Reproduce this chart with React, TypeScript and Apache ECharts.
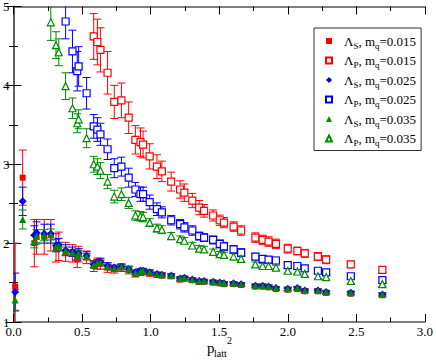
import React, { useEffect, useRef } from 'react';
import * as echarts from 'echarts';

// momentum values p_latt^2 (shared by all six data sets)
const P2 = [0.012, 0.067, 0.152, 0.168, 0.224, 0.272, 0.31, 0.33, 0.38, 0.43, 0.465, 0.475, 0.533, 0.585, 0.612, 0.634, 0.686, 0.735, 0.787, 0.84, 0.889, 0.926, 0.945, 0.993, 1.046, 1.082, 1.15, 1.215, 1.246, 1.304, 1.354, 1.39, 1.456, 1.504, 1.535, 1.605, 1.66, 1.764, 1.817, 1.86, 1.914, 2.0, 2.07, 2.124, 2.22, 2.28, 2.46, 2.69];

// Lambda_S, m_q = 0.015
const S015 = [1.45, 2.83, 2.0, 2.08, 2.08, 2.1, 1.94, 1.96, 1.89, 1.87, 1.8, 1.86, 1.82, 1.71, 1.74, 1.74, 1.69, 1.67, 1.69, 1.66, 1.61, 1.63, 1.64, 1.62, 1.6, 1.59, 1.58, 1.54, 1.55, 1.53, 1.51, 1.51, 1.5, 1.49, 1.48, 1.48, 1.47, 1.45, 1.45, 1.44, 1.42, 1.41, 1.42, 1.39, 1.39, 1.37, 1.36, 1.34];
const S015err = [0.55, 0.35, 0.3, 0.22, 0.22, 0.2, 0.18, 0.18, 0.12, 0.11, 0.11, 0.1, 0.08, 0.07, 0.07, 0.07, 0.06, 0.05, 0.05, 0.05, 0.04, 0.04, 0.04, 0.04, 0.03, 0.03, 0.03, 0.03, 0.03, 0.03, 0.03, 0.02, 0.02, 0.02, 0.02, 0.02, 0.02, 0.02, 0.02, 0.02, 0.02, 0.02, 0.02, 0.02, 0.02, 0.02, 0.02, 0.02];

// Lambda_S, m_q = 0.025
const S025 = [1.38, 2.53, 2.1, 2.13, 2.12, 2.12, 1.97, 1.98, 1.91, 1.89, 1.84, 1.87, 1.84, 1.73, 1.75, 1.76, 1.71, 1.69, 1.7, 1.67, 1.63, 1.65, 1.65, 1.63, 1.61, 1.6, 1.59, 1.55, 1.56, 1.54, 1.52, 1.52, 1.51, 1.5, 1.49, 1.49, 1.48, 1.46, 1.46, 1.45, 1.43, 1.42, 1.43, 1.4, 1.4, 1.38, 1.37, 1.35];
const S025err = [0.24, 0.18, 0.12, 0.14, 0.12, 0.12, 0.08, 0.08, 0.07, 0.06, 0.06, 0.06, 0.05, 0.04, 0.04, 0.04, 0.04, 0.03, 0.03, 0.03, 0.03, 0.03, 0.03, 0.03, 0.02, 0.02, 0.02, 0.02, 0.02, 0.02, 0.02, 0.02, 0.02, 0.02, 0.02, 0.02, 0.02, 0.02, 0.02, 0.02, 0.02, 0.02, 0.02, 0.02, 0.02, 0.02, 0.02, 0.02];

// Lambda_S, m_q = 0.035
const S035 = [1.28, 2.3, 2.02, 2.09, 2.1, 2.11, 1.95, 1.96, 1.9, 1.88, 1.83, 1.87, 1.83, 1.72, 1.75, 1.75, 1.7, 1.68, 1.7, 1.67, 1.62, 1.64, 1.65, 1.63, 1.61, 1.6, 1.59, 1.55, 1.56, 1.54, 1.52, 1.52, 1.51, 1.5, 1.49, 1.49, 1.48, 1.46, 1.46, 1.45, 1.43, 1.42, 1.43, 1.4, 1.4, 1.38, 1.37, 1.35];
const S035err = [0.13, 0.12, 0.08, 0.08, 0.07, 0.07, 0.05, 0.05, 0.05, 0.04, 0.04, 0.04, 0.04, 0.03, 0.03, 0.03, 0.03, 0.03, 0.03, 0.03, 0.02, 0.02, 0.02, 0.02, 0.02, 0.02, 0.02, 0.02, 0.02, 0.02, 0.02, 0.02, 0.02, 0.02, 0.02, 0.02, 0.02, 0.02, 0.02, 0.02, 0.02, 0.02, 0.02, 0.02, 0.02, 0.02, 0.02, 0.02];

// Lambda_P, m_q = 0.015 (points below index 13 lie above the plotted range)
const P015 = [null, null, null, null, null, null, null, null, null, null, null, null, null, 4.62, 4.55, 4.45, 4.16, 3.79, 3.81, 3.59, 3.31, 3.28, 3.25, 3.1, 2.97, 2.91, 2.78, 2.68, 2.64, 2.54, 2.45, 2.41, 2.35, 2.29, 2.26, 2.21, 2.16, 2.07, 2.04, 2.02, 1.99, 1.93, 1.9, 1.87, 1.83, 1.79, 1.73, 1.66];
const P015err = [0, 0, 0, 0, 0, 0, 0, 0, 0, 0, 0, 0, 0, 0.29, 0.29, 0.28, 0.27, 0.21, 0.22, 0.2, 0.18, 0.18, 0.17, 0.16, 0.15, 0.13, 0.12, 0.11, 0.11, 0.09, 0.09, 0.08, 0.07, 0.065, 0.065, 0.06, 0.06, 0.06, 0.06, 0.06, 0.06, 0.055, 0.05, 0.05, 0.05, 0.05, 0.04, 0.035];

// Lambda_P, m_q = 0.025
const P025 = [null, null, null, null, null, null, null, null, 4.81, 4.43, 4.18, 4.24, 3.9, 3.48, 3.44, 3.38, 3.19, 2.95, 2.97, 2.83, 2.68, 2.62, 2.62, 2.52, 2.43, 2.39, 2.29, 2.24, 2.2, 2.16, 2.09, 2.07, 2.04, 1.99, 1.96, 1.92, 1.88, 1.83, 1.8, 1.79, 1.78, 1.72, 1.71, 1.68, 1.65, 1.63, 1.58, 1.53];
const P025err = [0, 0, 0, 0, 0, 0, 0, 0, 0.22, 0.27, 0.25, 0.25, 0.2, 0.15, 0.15, 0.14, 0.13, 0.12, 0.12, 0.12, 0.09, 0.09, 0.09, 0.09, 0.08, 0.07, 0.06, 0.06, 0.06, 0.06, 0.05, 0.05, 0.05, 0.05, 0.05, 0.05, 0.05, 0.04, 0.04, 0.04, 0.04, 0.04, 0.04, 0.035, 0.035, 0.035, 0.03, 0.03];

// Lambda_P, m_q = 0.035
const P035 = [null, null, null, null, null, 4.8, 4.51, 4.42, 3.99, 3.71, 3.52, 3.57, 3.33, 3.0, 2.97, 2.92, 2.78, 2.59, 2.62, 2.51, 2.35, 2.34, 2.33, 2.26, 2.19, 2.17, 2.09, 2.05, 2.03, 1.97, 1.93, 1.92, 1.89, 1.86, 1.85, 1.83, 1.8, 1.73, 1.71, 1.71, 1.69, 1.65, 1.64, 1.61, 1.58, 1.57, 1.52, 1.48];
const P035err = [0, 0, 0, 0, 0, 0.23, 0.17, 0.17, 0.17, 0.13, 0.12, 0.12, 0.12, 0.1, 0.1, 0.1, 0.09, 0.08, 0.08, 0.07, 0.06, 0.06, 0.06, 0.05, 0.05, 0.05, 0.045, 0.04, 0.04, 0.04, 0.04, 0.04, 0.035, 0.035, 0.035, 0.035, 0.035, 0.03, 0.03, 0.03, 0.03, 0.03, 0.03, 0.03, 0.03, 0.03, 0.03, 0.03];

const X_TICKS = [0, 0.5, 1.0, 1.5, 2.0, 2.5, 3.0];
const Y_TICKS = [1, 2, 3, 4, 5];

const RED = '#ff0000';
const BLUE = '#0000ff';
const GREEN = '#008b00';
const SERIF = 'Liberation Serif';

type SetDef = { key: string; s: 'S' | 'P'; mq: string; ys: (number | null)[]; es: number[]; color: string; symbol: string; size: number; hollow: boolean };

const SETS: SetDef[] = [
  { key: 'S015', s: 'S', mq: '0.015', ys: S015, es: S015err, color: RED, symbol: 'rect', size: 6, hollow: false },
  { key: 'P015', s: 'P', mq: '0.015', ys: P015, es: P015err, color: RED, symbol: 'rect', size: 7, hollow: true },
  { key: 'S025', s: 'S', mq: '0.025', ys: S025, es: S025err, color: BLUE, symbol: 'diamond', size: 8, hollow: false },
  { key: 'P025', s: 'P', mq: '0.025', ys: P025, es: P025err, color: BLUE, symbol: 'rect', size: 7, hollow: true },
  { key: 'S035', s: 'S', mq: '0.035', ys: S035, es: S035err, color: GREEN, symbol: 'triangle', size: 7, hollow: false },
  { key: 'P035', s: 'P', mq: '0.035', ys: P035, es: P035err, color: GREEN, symbol: 'triangle', size: 7, hollow: true },
];

function errorSeries(d: SetDef) {
  const data: number[][] = [];
  P2.forEach((x, i) => {
    const y = d.ys[i];
    if (y != null) data.push([x, y - d.es[i], y + d.es[i]]);
  });
  return {
    type: 'custom',
    name: d.key + '_err',
    silent: true,
    clip: true,
    encode: { x: 0, y: [1, 2] },
    data,
    renderItem: (params: any, api: any) => {
      const x = api.value(0);
      const lo = api.coord([x, api.value(1)]);
      const hi = api.coord([x, api.value(2)]);
      const cw = 4;
      const style = { stroke: d.color, lineWidth: 1, fill: null };
      return {
        type: 'group',
        children: [
          { type: 'line', shape: { x1: lo[0], y1: lo[1], x2: hi[0], y2: hi[1] }, style },
          { type: 'line', shape: { x1: lo[0] - cw, y1: lo[1], x2: lo[0] + cw, y2: lo[1] }, style },
          { type: 'line', shape: { x1: hi[0] - cw, y1: hi[1], x2: hi[0] + cw, y2: hi[1] }, style },
        ],
      };
    },
  };
}

function pointSeries(d: SetDef) {
  const data: number[][] = [];
  P2.forEach((x, i) => {
    const y = d.ys[i];
    if (y != null) data.push([x, y]);
  });
  return {
    type: 'scatter',
    name: d.key,
    data,
    symbol: d.symbol,
    symbolSize: d.size,
    clip: true,
    itemStyle: d.hollow
      ? { color: '#ffffff', borderColor: d.color, borderWidth: 1.2, opacity: 1 }
      : { color: d.color, opacity: 1 },
  };
}

export default function App() {
  const ref = useRef<HTMLDivElement>(null);
  useEffect(() => {
    if (!ref.current) return;
    const chart = echarts.init(ref.current, undefined, { renderer: 'svg' });
    const series: any[] = [];
    SETS.forEach((d) => {
      series.push(errorSeries(d));
      series.push(pointSeries(d));
    });
    const labelOf: Record<string, string> = {};
    SETS.forEach((d) => {
      labelOf[d.key] = `{g|}{a|Λ}{s|${d.s}}{a|, m}{s|q}{a|=${d.mq}}`;
    });
    const axisLine = { show: true, lineStyle: { color: '#555', width: 1.5 } };
    const tickX = { show: true, inside: true, length: 8, lineStyle: { color: '#000', width: 1 } };
    const minorX = { show: true, splitNumber: 2, length: 4.5, lineStyle: { color: '#000', width: 1 } };
    const xBase = { type: 'value', min: 0, max: 3, interval: 0.5, splitLine: { show: false }, axisLine, axisTick: tickX, minorTick: minorX };
    const yBase = { type: 'value', min: 1, max: 5, interval: 1, splitLine: { show: false }, axisLine, axisTick: tickX, minorTick: minorX };
    chart.setOption({
      animation: false,
      backgroundColor: '#ffffff',
      grid: { left: 12, right: 9, top: 6, bottom: 38, containLabel: false },
      xAxis: [
        {
          ...xBase,
          position: 'bottom',
          axisLabel: {
            show: true, margin: 3, color: '#000', fontFamily: SERIF, fontSize: 13,
            formatter: (v: number) => (X_TICKS.some((t) => Math.abs(t - v) < 1e-9) ? v.toFixed(1) : ''),
          },
        },
        { ...xBase, position: 'top', axisLabel: { show: false } },
      ],
      yAxis: [
        {
          ...yBase,
          position: 'left',
          axisLabel: {
            show: true, margin: 4, color: '#000', fontFamily: SERIF, fontSize: 13,
            formatter: (v: number) => (Y_TICKS.includes(v) ? String(v) : ''),
          },
        },
        { ...yBase, position: 'right', axisLabel: { show: false } },
      ],
      legend: {
        data: SETS.map((d) => d.key),
        orient: 'vertical',
        left: 314,
        top: 28,
        padding: [4, 5, 3, 11],
        itemWidth: 6,
        itemHeight: 6,
        itemGap: 1.5,
        borderColor: '#333',
        borderWidth: 1,
        borderRadius: 0,
        backgroundColor: '#ffffff',
        selectedMode: false,
        formatter: (n: string) => labelOf[n],
        textStyle: {
          fontFamily: SERIF, fontSize: 13, color: '#000', lineHeight: 18,
          rich: {
            g: { width: 7, height: 18, lineHeight: 18 },
            a: { fontFamily: SERIF, fontSize: 13, lineHeight: 18, color: '#000' },
            s: { fontFamily: SERIF, fontSize: 9, lineHeight: 9, color: '#000', verticalAlign: 'bottom' },
          },
        },
      },
      graphic: [
        { type: 'text', left: 207, top: 340, style: { text: 'p', font: `15px ${SERIF}`, fill: '#000' } },
        { type: 'text', left: 214, top: 348, style: { text: 'latt', font: `10px ${SERIF}`, fill: '#000' } },
        { type: 'text', left: 227, top: 335, style: { text: '2', font: `10px ${SERIF}`, fill: '#000' } },
      ],
      series,
    });
    return () => chart.dispose();
  }, []);
  return <div ref={ref} style={{ position: 'fixed', left: 0, top: 0, width: 436, height: 360 }} />;
}
